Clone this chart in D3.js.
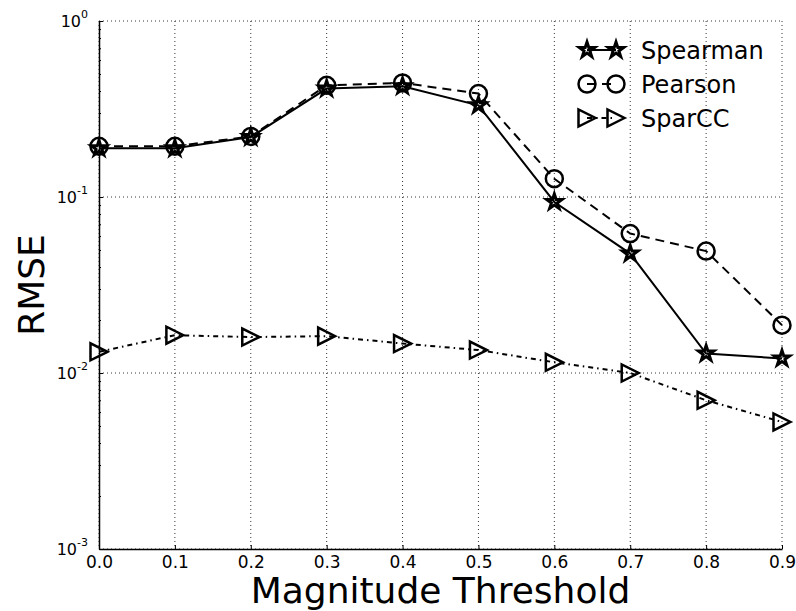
<!DOCTYPE html>
<html>
<head>
<meta charset="utf-8">
<script src="https://cdn.jsdelivr.net/npm/d3@7"></script>
<style>
  body { margin: 0; background: #fff; }
  svg { font-family: "DejaVu Sans", sans-serif; }
  .axis path, .axis line { stroke: #000; }
  .grid line { stroke: #000; stroke-width: 0.8; stroke-dasharray: 1,3; }
</style>
</head>
<body>
<div id="chart"></div>
<script>
// data
const thresholds = [0.0, 0.1, 0.2, 0.3, 0.4, 0.5, 0.6, 0.7, 0.8, 0.9];
const spearman = [0.189, 0.189, 0.219, 0.413, 0.426, 0.332, 0.0937, 0.0477, 0.0129, 0.0121];
const pearson = [0.194, 0.194, 0.221, 0.431, 0.445, 0.387, 0.127, 0.062, 0.0493, 0.0187];
const sparcc = [0.0132, 0.0164, 0.0160, 0.0162, 0.0147, 0.0135, 0.0115, 0.0100, 0.0070, 0.00527];
const xTicks = [0.0, 0.1, 0.2, 0.3, 0.4, 0.5, 0.6, 0.7, 0.8, 0.9];
const yMajor = [1e-3, 1e-2, 1e-1, 1];
const yExponents = ['-3', '-2', '-1', '0'];

const series = [
  { name: 'Spearman', values: spearman, marker: 'star', dash: null },
  { name: 'Pearson', values: pearson, marker: 'circle', dash: '9,6' },
  { name: 'SparCC', values: sparcc, marker: 'tri', dash: '5,4,1.5,4' },
];

const W = 796;
const H = 611;
const margin = { top: 21, right: 14, bottom: 62, left: 99 };
const width = W - margin.left - margin.right;
const height = H - margin.top - margin.bottom;

const xScale = d3.scaleLinear().domain([0, 0.9]).range([0, width]);
const yScale = d3.scaleLog().domain([1e-3, 1]).range([height, 0]);

const svg = d3.select('#chart').append('svg')
  .attr('width', W)
  .attr('height', H);

const g = svg.append('g')
  .attr('transform', `translate(${margin.left},${margin.top})`);

// grid
g.append('g').attr('class', 'grid')
  .selectAll('line.gx')
  .data(xTicks)
  .enter().append('line')
  .attr('x1', d => xScale(d)).attr('x2', d => xScale(d))
  .attr('y1', 0).attr('y2', height);
g.append('g').attr('class', 'grid')
  .selectAll('line.gy')
  .data(yMajor)
  .enter().append('line')
  .attr('x1', 0).attr('x2', width)
  .attr('y1', d => yScale(d)).attr('y2', d => yScale(d));

// minor y ticks
const yMinor = [];
yMajor.slice(0, 3).forEach((m) => {
  for (let k = 2; k <= 9; k += 1) yMinor.push(m * k);
});

g.append('g')
  .attr('class', 'axis')
  .call(d3.axisLeft(yScale).tickValues(yMinor).tickSizeInner(-2).tickSizeOuter(0).tickFormat(''))
  .call(s => s.select('.domain').remove());

const yAxis = g.append('g')
  .attr('class', 'axis')
  .call(d3.axisLeft(yScale).tickValues(yMajor).tickSizeInner(-4).tickSizeOuter(0).tickPadding(11).tickFormat(''));
yAxis.select('.domain').attr('stroke-width', 1.5);
yAxis.selectAll('.tick text').each(function (d, i) {
  const t = d3.select(this)
    .attr('font-size', 16)
    .attr('fill', '#000')
    .attr('font-family', '"DejaVu Sans", sans-serif');
  t.append('tspan').text('10');
  t.append('tspan').attr('font-size', 11).attr('dy', '-0.75em').text(yExponents[i]);
});

const xAxis = g.append('g')
  .attr('class', 'axis')
  .attr('transform', `translate(0,${height})`)
  .call(d3.axisBottom(xScale).tickValues(xTicks).tickSizeInner(-4).tickSizeOuter(0).tickPadding(7)
    .tickFormat(d3.format('.1f')));
xAxis.select('.domain').attr('stroke-width', 1.5);
xAxis.selectAll('.tick text')
  .attr('font-size', 17)
  .attr('fill', '#000')
  .attr('font-family', '"DejaVu Sans", sans-serif');

// axis labels
svg.append('text')
  .attr('x', margin.left + width / 2)
  .attr('y', 603)
  .attr('text-anchor', 'middle')
  .attr('font-size', 36)
  .text('Magnitude Threshold');

svg.append('text')
  .attr('transform', `translate(44,${margin.top + height / 2}) rotate(-90)`)
  .attr('text-anchor', 'middle')
  .attr('font-size', 36)
  .text('RMSE');

// markers
function markerPath(type) {
  if (type === 'circle') {
    return d3.symbol(d3.symbolCircle, Math.PI * 8.5 * 8.5)();
  }
  if (type === 'star') {
    const r = 8;
    return d3.symbol(d3.symbolStar, (r * r) / 0.8908130915292852)();
  }
  const r = 8.5;
  return `M${r},0L${-r},${r}L${-r},${-r}Z`;
}

const line = d3.line()
  .x((d, i) => xScale(thresholds[i]))
  .y(d => yScale(d));

series.forEach((s) => {
  const sg = g.append('g').attr('class', s.name);
  sg.append('path')
    .datum(s.values)
    .attr('fill', 'none')
    .attr('stroke', '#000')
    .attr('stroke-width', 2)
    .attr('stroke-dasharray', s.dash)
    .attr('d', line);
  sg.selectAll('.marker')
    .data(s.values)
    .enter().append('path')
    .attr('class', 'marker')
    .attr('transform', (d, i) => `translate(${xScale(thresholds[i])},${yScale(d)})`)
    .attr('d', markerPath(s.marker))
    .attr('fill', 'none')
    .attr('stroke', '#000')
    .attr('stroke-width', s.marker === 'star' ? 3 : 2.5);
});

// legend
const legend = svg.append('g').attr('transform', 'translate(587,50)');
series.forEach((s, i) => {
  const row = legend.append('g').attr('transform', `translate(0,${i * 34})`);
  row.append('line')
    .attr('x1', 0).attr('x2', 29)
    .attr('stroke', '#000')
    .attr('stroke-width', 2)
    .attr('stroke-dasharray', s.dash);
  [0, 29].forEach((x) => {
    row.append('path')
      .attr('transform', `translate(${x},0)`)
      .attr('d', markerPath(s.marker))
      .attr('fill', 'none')
      .attr('stroke', '#000')
      .attr('stroke-width', s.marker === 'star' ? 3 : 2.5);
  });
  row.append('text')
    .attr('x', 54)
    .attr('dy', '0.36em')
    .attr('font-size', 24)
    .text(s.name);
});
</script>
</body>
</html>
